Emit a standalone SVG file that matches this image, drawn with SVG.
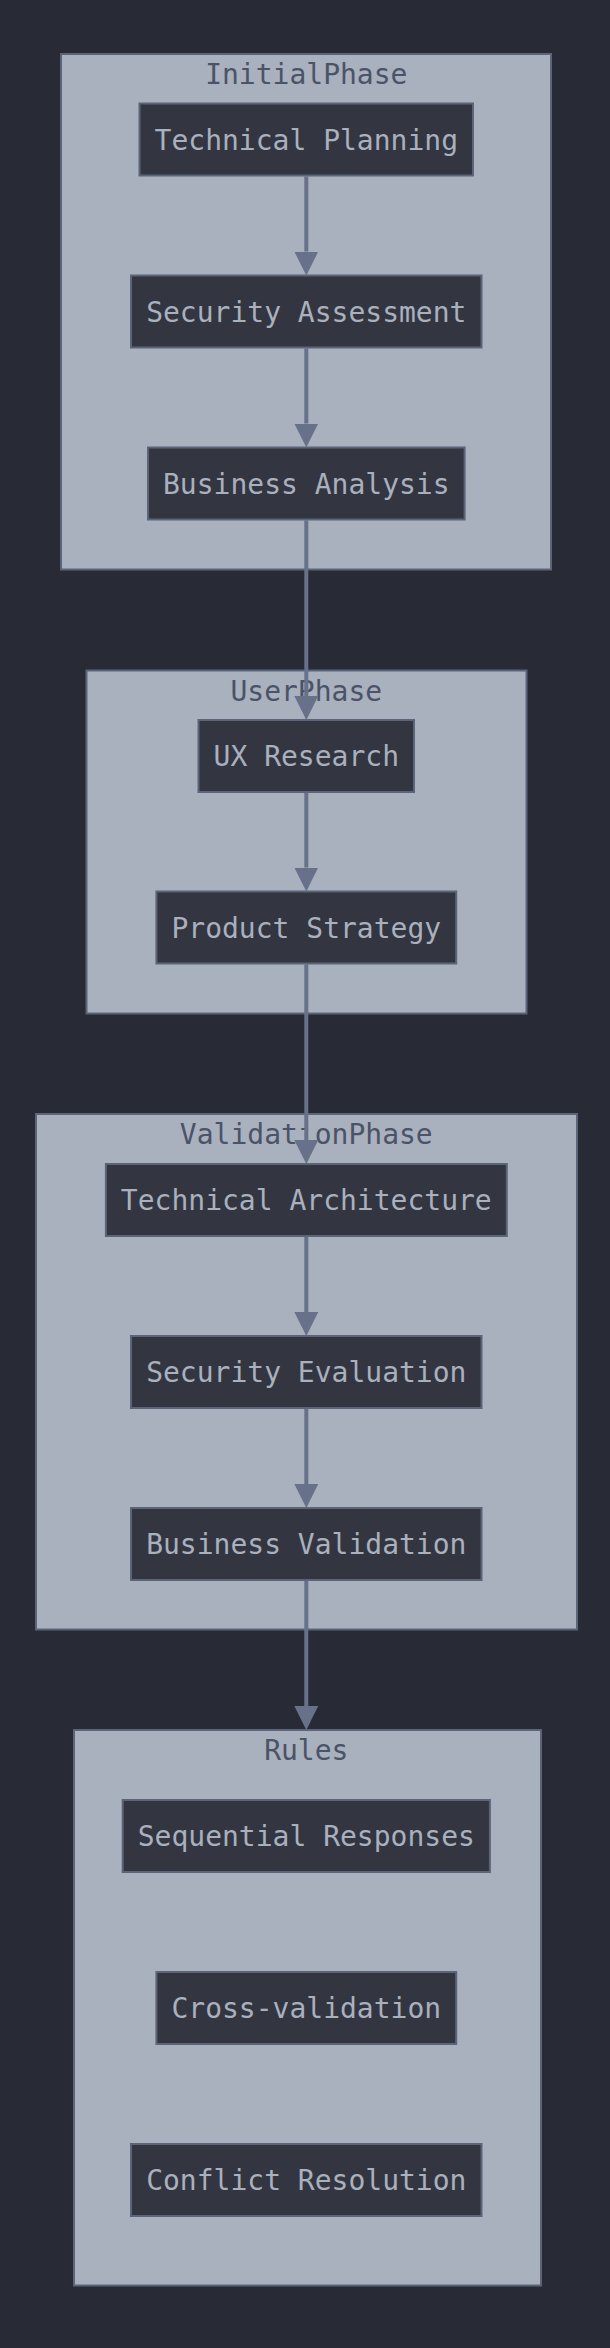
<svg xmlns="http://www.w3.org/2000/svg" width="610" height="2348" viewBox="0 0 610 2348">
<style>
.bg{fill:#282b35}
.cluster{fill:#a9b0be;stroke:#5b6479;stroke-width:2}
.ctitle{fill:#4b5367;font-family:"DejaVu Sans Mono","Liberation Mono",monospace;font-size:28px;text-anchor:middle}
.node{fill:#333641;stroke:#5b6479;stroke-width:2}
.ntext{fill:#a9b0be;font-family:"DejaVu Sans Mono","Liberation Mono",monospace;font-size:28px;text-anchor:middle}
.edge{stroke:#67718a;stroke-width:4;fill:none}
</style>
<defs>
<marker id="arrow" viewBox="0 0 24 24" refX="0" refY="12" markerWidth="24" markerHeight="24" markerUnits="userSpaceOnUse" orient="auto">
<path d="M0,0 L24,12 L0,24 z" fill="#67718a"/>
</marker>
</defs>
<rect class="bg" x="0" y="0" width="610" height="2348"/>

<g id="cluster-InitialPhase">
<rect class="cluster" x="61" y="54" width="490" height="515.5"/>
<text class="ctitle" x="306.3" y="84">InitialPhase</text>
</g>
<g id="cluster-UserPhase">
<rect class="cluster" x="86.5" y="670.5" width="440" height="343"/>
<text class="ctitle" x="306.3" y="700.5">UserPhase</text>
</g>
<g id="cluster-ValidationPhase">
<rect class="cluster" x="36" y="1114" width="541" height="515.5"/>
<text class="ctitle" x="306.3" y="1144">ValidationPhase</text>
</g>
<g id="cluster-Rules">
<rect class="cluster" x="74" y="1730" width="467" height="555.5"/>
<text class="ctitle" x="306.3" y="1760">Rules</text>
</g>

<g id="edges">
<line class="edge" x1="306.3" y1="176.5" x2="306.3" y2="251.5" marker-end="url(#arrow)"/>
<line class="edge" x1="306.3" y1="348.5" x2="306.3" y2="423.5" marker-end="url(#arrow)"/>
<line class="edge" x1="306.3" y1="520.5" x2="306.3" y2="696" marker-end="url(#arrow)"/>
<line class="edge" x1="306.3" y1="793" x2="306.3" y2="867.5" marker-end="url(#arrow)"/>
<line class="edge" x1="306.3" y1="964.5" x2="306.3" y2="1140" marker-end="url(#arrow)"/>
<line class="edge" x1="306.3" y1="1237" x2="306.3" y2="1312" marker-end="url(#arrow)"/>
<line class="edge" x1="306.3" y1="1409" x2="306.3" y2="1484" marker-end="url(#arrow)"/>
<line class="edge" x1="306.3" y1="1581" x2="306.3" y2="1706" marker-end="url(#arrow)"/>
</g>

<g id="node-TechnicalPlanning">
<rect class="node" x="139.5" y="103.5" width="333.5" height="72"/>
<text class="ntext" x="306.3" y="149.5">Technical Planning</text>
</g>
<g id="node-SecurityAssessment">
<rect class="node" x="131" y="275.5" width="350.5" height="72"/>
<text class="ntext" x="306.3" y="321.5">Security Assessment</text>
</g>
<g id="node-BusinessAnalysis">
<rect class="node" x="148" y="447.5" width="316.6" height="72"/>
<text class="ntext" x="306.3" y="493.5">Business Analysis</text>
</g>
<g id="node-UXResearch">
<rect class="node" x="198.5" y="720" width="215.5" height="72"/>
<text class="ntext" x="306.3" y="766">UX Research</text>
</g>
<g id="node-ProductStrategy">
<rect class="node" x="156.4" y="891.5" width="299.8" height="72"/>
<text class="ntext" x="306.3" y="937.5">Product Strategy</text>
</g>
<g id="node-TechnicalArchitecture">
<rect class="node" x="105.9" y="1164" width="400.9" height="72"/>
<text class="ntext" x="306.3" y="1210">Technical Architecture</text>
</g>
<g id="node-SecurityEvaluation">
<rect class="node" x="131" y="1336" width="350.5" height="72"/>
<text class="ntext" x="306.3" y="1382">Security Evaluation</text>
</g>
<g id="node-BusinessValidation">
<rect class="node" x="131" y="1508" width="350.5" height="72"/>
<text class="ntext" x="306.3" y="1554">Business Validation</text>
</g>
<g id="node-SequentialResponses">
<rect class="node" x="122.7" y="1800" width="367.2" height="72"/>
<text class="ntext" x="306.3" y="1846">Sequential Responses</text>
</g>
<g id="node-CrossValidation">
<rect class="node" x="156.4" y="1972" width="299.8" height="72"/>
<text class="ntext" x="306.3" y="2018">Cross-validation</text>
</g>
<g id="node-ConflictResolution">
<rect class="node" x="131" y="2144" width="350.5" height="72"/>
<text class="ntext" x="306.3" y="2190">Conflict Resolution</text>
</g>
</svg>
